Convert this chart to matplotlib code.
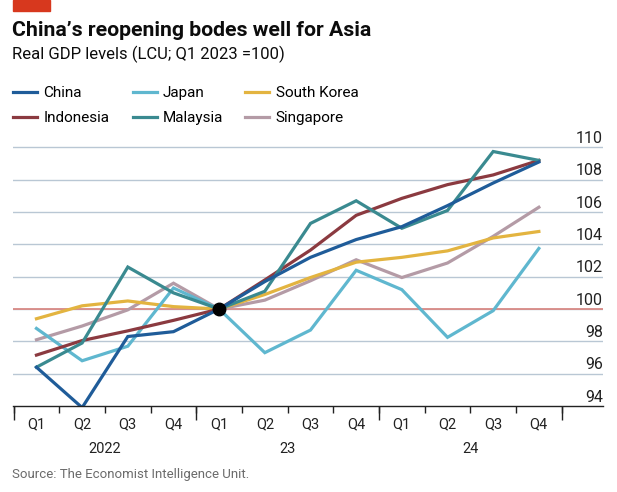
import matplotlib
matplotlib.use('Agg')
import matplotlib.pyplot as plt
import matplotlib.transforms as mtransforms
from matplotlib.patches import Rectangle

plt.rcParams['font.family'] = ['Roboto', 'DejaVu Sans']

quarters = ['Q1', 'Q2', 'Q3', 'Q4'] * 3
years = ['2022', '23', '24']

china     = [96.4, 93.9, 98.3, 98.6, 100, 101.7, 103.2, 104.3, 105.1, 106.4, 107.8, 109.1]
japan     = [98.8, 96.8, 97.7, 101.3, 100, 97.3, 98.7, 102.4, 101.2, 98.25, 99.9, 103.75]
s_korea   = [99.4, 100.2, 100.5, 100.15, 100, 100.9, 101.95, 102.9, 103.2, 103.6, 104.4, 104.8]
indonesia = [97.15, 98.05, 98.65, 99.3, 100, 101.8, 103.65, 105.8, 106.85, 107.7, 108.3, 109.2]
malaysia  = [96.4, 97.9, 102.6, 101.0, 100, 101.1, 105.3, 106.7, 105.0, 106.1, 109.75, 109.2]
singapore = [98.1, 98.95, 99.95, 101.6, 100, 100.55, 101.75, 103.05, 101.95, 102.85, 104.5, 106.3]

series = [
    ('China', china, '#1f5c99'),
    ('Japan', japan, '#5fb7cf'),
    ('South Korea', s_korea, '#e3b440'),
    ('Indonesia', indonesia, '#8b3a40'),
    ('Malaysia', malaysia, '#3a8a90'),
    ('Singapore', singapore, '#b49ba6'),
]
yticks = [94, 96, 98, 100, 102, 104, 106, 108, 110]

fig = plt.figure(figsize=(6.17, 4.92), dpi=100)
ax = fig.add_axes([0.0206, 0.1748, 0.9564, 0.5419])

x = list(range(len(quarters)))

for val in yticks[1:]:
    ax.axhline(val, color='#b9c7d4', lw=1.0, zorder=1)
ax.axhline(100, color='#d98a86', lw=1.3, zorder=2)

draw_order = ['Singapore', 'South Korea', 'Japan', 'Indonesia', 'Malaysia', 'China']
handles = {}
for name, vals, col in series:
    z = 3 + draw_order.index(name)
    ln, = ax.plot(x, vals, color=col, lw=2.3, zorder=z, label=name, solid_joinstyle='miter')
    handles[name] = ln

ax.plot([4], [100], 'o', color='black', ms=9, zorder=20)

ax.set_xlim(-0.52, 12.4)
ax.set_ylim(94, 110.5)

for s in ['top', 'right', 'left']:
    ax.spines[s].set_visible(False)
ax.spines['bottom'].set_color('#222222')
ax.spines['bottom'].set_linewidth(1.0)
ax.spines['bottom'].set_zorder(25)

ax.set_yticks([])
trans = mtransforms.blended_transform_factory(ax.transAxes, ax.transData)
for val in yticks:
    ax.text(1.0, val + 0.08, str(val), transform=trans, ha='right', va='bottom',
            fontsize=11.5, color='#222222')

ax.set_xticks(x, quarters, fontsize=10.5, color='#222222')
ax.tick_params(axis='x', which='major', length=0, pad=8.5)
bounds = [i - 0.5 for i in range(13)]
ax.set_xticks(bounds, minor=True)
ax.tick_params(axis='x', which='minor', length=5, width=1, color='#222222')

sec = ax.secondary_xaxis('bottom')
sec.set_xticks([-0.5, 3.5, 7.5, 11.5], ['', '', '', ''])
sec.tick_params(length=10, width=1, color='#222222')
sec.spines['bottom'].set_visible(False)

sec2 = ax.secondary_xaxis('bottom')
sec2.set_xticks([1.5, 5.5, 9.5], years, fontsize=10.5, color='#222222')
sec2.tick_params(length=0, pad=26)
sec2.spines['bottom'].set_visible(False)

# legend: three columns placed by hand
leg_cols = [['China', 'Indonesia'], ['Japan', 'Malaysia'], ['South Korea', 'Singapore']]
leg_x = [13, 132.5, 245]
for names, lx in zip(leg_cols, leg_x):
    lg = fig.legend([handles[n] for n in names], names, frameon=False,
                    loc='upper left', bbox_to_anchor=(lx / 617, 1 - 86 / 492),
                    fontsize=11, handlelength=1.6, handletextpad=0.4,
                    labelspacing=0.75, borderaxespad=0, borderpad=0)

fig.patches.append(Rectangle((12.5 / 617, 1 - 11 / 492), 37.5 / 617, 11 / 492,
                             transform=fig.transFigure, color='#d7381e', zorder=5))
fig.text(12.5 / 617, 1 - 36 / 492, "China\u2019s reopening bodes well for Asia",
         fontsize=15.3, fontweight='bold', color='#0c0c0c', va='baseline')
fig.text(12.5 / 617, 1 - 59 / 492, "Real GDP levels (LCU; Q1 2023 =100)",
         fontsize=12, color='#0c0c0c', va='baseline')
fig.text(12.5 / 617, 1 - 478 / 492, "Source: The Economist Intelligence Unit.",
         fontsize=9.5, color='#6b6b6b', va='baseline')

fig.savefig('out.png', dpi=100)
